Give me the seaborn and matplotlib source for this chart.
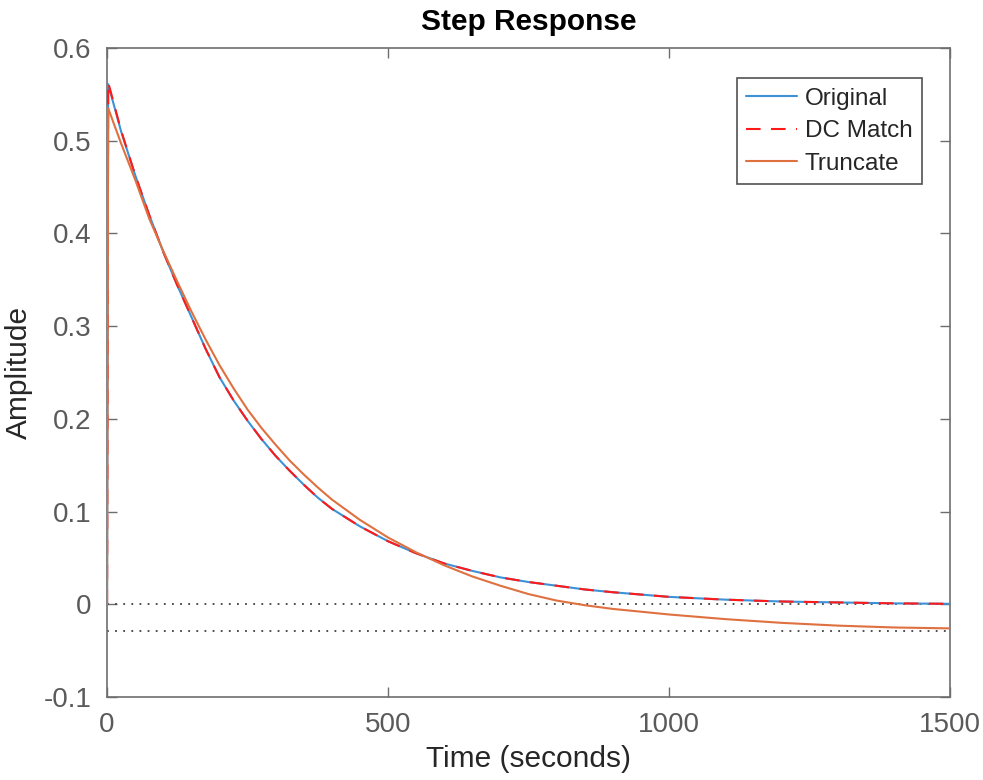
import pandas as pd
import seaborn as sns
import matplotlib.pyplot as plt

# values
time_s = [0, 2, 25, 50, 75, 100, 125, 150, 175, 200, 225, 250, 275, 300, 325,
          350, 375, 400, 450, 500, 550, 600, 650, 700, 750, 800, 850, 900,
          1000, 1100, 1200, 1300, 1400, 1500]
original = [0.0, 0.561, 0.510, 0.463, 0.420, 0.380, 0.344, 0.310, 0.276, 0.245,
            0.220, 0.198, 0.178, 0.160, 0.144, 0.129, 0.115, 0.103, 0.084,
            0.068, 0.055, 0.044, 0.036, 0.029, 0.024, 0.020, 0.016, 0.013,
            0.008, 0.005, 0.003, 0.002, 0.001, 0.0005]
dc_match = [0.0, 0.563, 0.511, 0.463, 0.420, 0.380, 0.344, 0.310, 0.276, 0.245,
            0.220, 0.198, 0.178, 0.160, 0.144, 0.129, 0.115, 0.103, 0.084,
            0.068, 0.055, 0.044, 0.036, 0.029, 0.024, 0.020, 0.016, 0.013,
            0.008, 0.005, 0.003, 0.002, 0.001, 0.0005]
truncate = [0.0, 0.535, 0.497, 0.458, 0.416, 0.381, 0.348, 0.316, 0.286, 0.258,
            0.233, 0.210, 0.190, 0.172, 0.155, 0.140, 0.126, 0.113, 0.091,
            0.072, 0.056, 0.042, 0.030, 0.020, 0.011, 0.004, -0.001, -0.005,
            -0.011, -0.016, -0.020, -0.023, -0.025, -0.026]
steady_state = [0.0, -0.029]

x_ticks = [0, 500, 1000, 1500]
y_ticks = [-0.1, 0, 0.1, 0.2, 0.3, 0.4, 0.5, 0.6]
y_tick_labels = ["-0.1", "0", "0.1", "0.2", "0.3", "0.4", "0.5", "0.6"]

df = pd.DataFrame({"Time": time_s, "Original": original,
                   "DC Match": dc_match, "Truncate": truncate})

sns.set_theme(style="white")
plt.rcParams["font.family"] = ["Liberation Sans", "DejaVu Sans"]

fig = plt.figure(figsize=(9.83, 7.80), dpi=100)
ax = fig.add_axes([0.1089, 0.1064, 0.8576, 0.8321])

# steady-state reference lines
for v in steady_state:
    ax.axhline(v, color="#404040", linestyle=(0, (1, 3.5)), linewidth=1.3, zorder=1)

sns.lineplot(data=df, x="Time", y="Original", ax=ax, color="#3b92d6",
             linewidth=1.5, label="Original", zorder=3)
sns.lineplot(data=df, x="Time", y="DC Match", ax=ax, color="#FF1a1a",
             linewidth=1.5, linestyle=(0, (7, 5)), label="DC Match", zorder=4)
sns.lineplot(data=df, x="Time", y="Truncate", ax=ax, color="#df7040",
             linewidth=1.5, label="Truncate", zorder=5)

ax.set_xlim(0, 1500)
ax.set_ylim(-0.1, 0.6)
ax.set_xticks(x_ticks)
ax.set_yticks(y_ticks)
ax.set_yticklabels(y_tick_labels)

ax.tick_params(direction="in", length=7, width=1, colors="#6e6e6e",
               labelcolor="#5a5a5a", labelsize=20, top=True, right=True,
               bottom=True, left=True, pad=11)
for s in ax.spines.values():
    s.set_color("#6e6e6e")
    s.set_linewidth(1.2)

ax.set_xlabel("Time (seconds)", fontsize=21.5, color="#262626", labelpad=5)
ax.set_ylabel("Amplitude", fontsize=21.5, color="#262626", labelpad=8)
ax.set_title("Step Response", fontsize=21.5, fontweight="bold", color="black", pad=13)

leg = ax.legend(loc="upper right", bbox_to_anchor=(0.9668, 0.9538), borderaxespad=0,
                fontsize=17.5, frameon=True, fancybox=False, handlelength=2.1,
                labelspacing=0.43, handletextpad=0.3, borderpad=0.4)
leg.get_frame().set_edgecolor("#262626")
leg.get_frame().set_linewidth(1.2)

plt.savefig("out.png", dpi=100)
